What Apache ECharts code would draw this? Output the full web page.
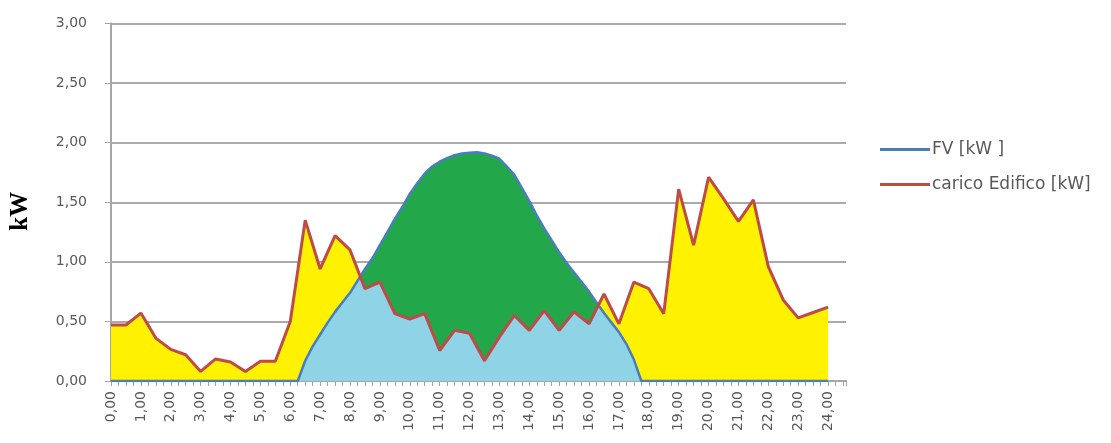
<!DOCTYPE html>
<html>
<head>
<meta charset="utf-8">
<script src="https://cdn.jsdelivr.net/npm/echarts@6/dist/echarts.min.js"></script>
<style>
  html, body { margin: 0; padding: 0; background: #fff; }
  #chart { width: 1111px; height: 443px; }
</style>
</head>
<body>
<div id="chart"></div>
<script>
// etichette orarie dell'asse x
var hourLabels = ['0,00','1,00','2,00','3,00','4,00','5,00','6,00','7,00','8,00','9,00','10,00','11,00','12,00',
  '13,00','14,00','15,00','16,00','17,00','18,00','19,00','20,00','21,00','22,00','23,00','24,00'];

// FV ogni 15 minuti (0,00 -> 24,00)
var fvValues = [
  0,0,0,0, 0,0,0,0, 0,0,0,0, 0,0,0,0, 0,0,0,0, 0,0,0,0, 0,0,
  0.17,0.29,0.39,0.49,0.58,0.66,0.74,0.84,0.94,1.03,1.14,1.25,1.36,1.46,1.57,1.66,1.74,1.80,
  1.84,1.87,1.895,1.91,1.915,1.92,1.91,1.89,1.865,1.80,1.73,1.62,1.51,1.39,1.28,1.18,1.08,
  0.99,0.91,0.83,0.75,0.66,0.57,0.49,0.41,0.31,0.18,
  0,0,0,0, 0,0,0,0, 0,0,0,0, 0,0,0,0, 0,0,0,0, 0,0,0,0, 0,0
];

// carico edificio ogni 30 minuti (0,00 -> 24,00)
var loadValues = [
  0.47,0.47,0.57,0.36,0.265,0.22,0.08,0.185,0.16,0.08,0.165,0.165,
  0.50,1.35,0.94,1.22,1.10,0.775,0.83,0.565,0.52,0.565,0.256,0.425,
  0.40,0.17,0.37,0.55,0.425,0.59,0.425,0.58,0.48,0.73,0.48,0.83,
  0.775,0.565,1.61,1.14,1.71,1.53,1.34,1.52,0.96,0.68,0.53,0.575,0.62
];

var fvStep = 0.25, loadStep = 0.5;

var fvPts = fvValues.map(function (v, i) { return [i * fvStep, v]; });
var loadPts = loadValues.map(function (v, i) { return [i * loadStep, v]; });

function loadAt(t) {
  var i = Math.floor(t / loadStep);
  if (i >= loadValues.length - 1) return loadValues[loadValues.length - 1];
  var f = (t - i * loadStep) / loadStep;
  return loadValues[i] + (loadValues[i + 1] - loadValues[i]) * f;
}

// parte comune (autoconsumo) = minimo tra FV e carico
var minPts = [];
for (var i = 0; i < fvValues.length; i++) {
  var t = i * fvStep, a = fvValues[i], b = loadAt(t);
  if (i > 0) {
    var t0 = t - fvStep, a0 = fvValues[i - 1], b0 = loadAt(t0);
    var d0 = a0 - b0, d1 = a - b;
    if (d0 * d1 < 0) {
      var s = d0 / (d0 - d1);
      minPts.push([t0 + s * fvStep, a0 + (a - a0) * s]);
    }
  }
  minPts.push([t, Math.min(a, b)]);
}

var labelColor = '#595959';
var chart = echarts.init(document.getElementById('chart'));
chart.setOption({
  animation: false,
  backgroundColor: '#fff',
  grid: { left: 107, right: 265, top: 23.5, bottom: 62 },
  legend: {
    orient: 'vertical',
    left: 875,
    top: 136,
    itemWidth: 50,
    itemHeight: 3,
    itemGap: 18,
    icon: 'rect',
    data: ['FV [kW ]', 'carico Edifico [kW]'],
    textStyle: { fontFamily: 'DejaVu Sans', fontSize: 17, color: labelColor, padding: [0, 0, 0, -3] }
  },
  xAxis: {
    type: 'value',
    min: 0,
    max: 24.6,
    interval: 0.25,
    axisLine: { lineStyle: { color: '#a6a6a6', width: 2 } },
    axisTick: { show: true, length: 5, lineStyle: { color: '#a6a6a6', width: 1 } },
    splitLine: { show: false },
    axisLabel: {
      rotate: 90,
      margin: 10,
      fontFamily: 'DejaVu Sans',
      fontSize: 14,
      color: labelColor,
      formatter: function (v) {
        return Number.isInteger(v) ? hourLabels[v] : '';
      }
    }
  },
  yAxis: {
    type: 'value',
    min: 0,
    max: 3,
    interval: 0.5,
    name: 'kW',
    nameLocation: 'middle',
    nameRotate: 90,
    nameGap: 78,
    nameTextStyle: {
      fontFamily: 'Liberation Serif', fontWeight: 'bold', fontSize: 25, color: '#000',
      padding: [0, 18, 0, 0]
    },
    axisLine: { show: true, lineStyle: { color: '#a6a6a6', width: 2 } },
    axisTick: { show: true, length: 6, lineStyle: { color: '#a6a6a6' } },
    splitLine: { lineStyle: { color: '#aaaaaa', width: 2 } },
    axisLabel: {
      margin: 24,
      fontFamily: 'DejaVu Sans',
      fontSize: 14,
      color: labelColor,
      formatter: function (v) { return v.toFixed(2).replace('.', ','); }
    }
  },
  series: [
    {
      type: 'line', data: loadPts, symbol: 'none', z: 1,
      lineStyle: { width: 0 }, areaStyle: { color: '#fff200', opacity: 1 }, silent: true
    },
    {
      type: 'line', data: fvPts, symbol: 'none', z: 2,
      lineStyle: { width: 0 }, areaStyle: { color: '#22a84a', opacity: 1 }, silent: true
    },
    {
      type: 'line', data: minPts, symbol: 'none', z: 3,
      lineStyle: { width: 0 }, areaStyle: { color: '#8fd3e6', opacity: 1 }, silent: true
    },
    {
      name: 'FV [kW ]', type: 'line', data: fvPts, symbol: 'none', z: 4,
      itemStyle: { color: '#4a7ebb' },
      lineStyle: { color: '#4a7ebb', width: 2.5 }
    },
    {
      name: 'carico Edifico [kW]', type: 'line', data: loadPts, symbol: 'none', z: 5,
      itemStyle: { color: '#be4b48' },
      lineStyle: { color: '#be4b48', width: 3 }
    }
  ]
});
</script>
</body>
</html>
